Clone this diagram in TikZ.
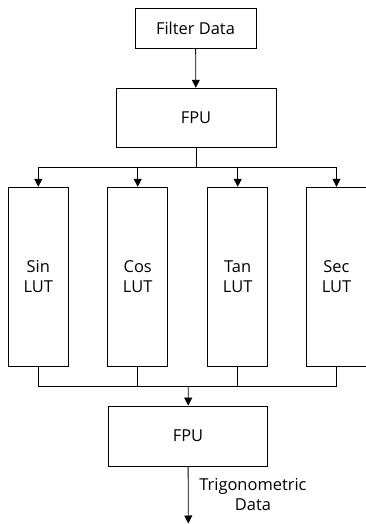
\documentclass[tikz,border=0pt]{standalone}
\usepackage{fontspec}
\setmainfont{Open Sans}
\usepackage{tikz}
\usetikzlibrary{arrows.meta,positioning}

\begin{document}
\begin{tikzpicture}[x=1bp,y=1bp,line width=0.8bp,
  box/.style={draw,inner sep=0pt,align=center,font=\fontsize{16.5}{19.5}\selectfont},
  lut/.style={box,minimum width=60bp,minimum height=179bp},
  arr/.style={-{Triangle[length=8bp,width=8bp]}}]
\useasboundingbox (0,0) rectangle (365,-524);
\node[box,minimum width=121bp,minimum height=40bp] (filt) at (195.5,-28) {Filter Data};
\node[box,minimum width=160bp,minimum height=59bp] (fpuA) at (196,-117.7) {FPU};
\node[lut] (sin) at (38.3,-276.7) {Sin\\LUT};
\node[lut] (cos) at (137.7,-276.7) {Cos\\LUT};
\node[lut] (tan) at (237.7,-276.7) {Tan\\LUT};
\node[lut] (sec) at (336.5,-276.7) {Sec\\LUT};
\node[box,minimum width=159.5bp,minimum height=60bp] (fpuB) at (188,-436) {FPU};
\coordinate (splitA) at (196,-167.7);
\coordinate (joinB) at (188.3,-386.7);
\coordinate (out) at (188.3,-523.5);
\draw[arr] (filt) -- (fpuA);
\draw (fpuA) -- (splitA);
\draw (sin.north |- splitA) -- (sec.north |- splitA);
\foreach \n in {sin,cos,tan,sec}
  \draw[arr] (\n.north |- splitA) -- (\n.north);
\foreach \n in {sin,cos,tan,sec}
  \draw (\n.south) -- (\n.south |- joinB);
\draw (sin.south |- joinB) -- (sec.south |- joinB);
\draw[arr] (joinB) -- (fpuB);
\draw[arr] (fpuB) -- (out);
\node[align=center,font=\fontsize{16.5}{19.5}\selectfont,anchor=west,inner sep=0pt] (trig) at (199,-494.5) {Trigonometric\\Data};
\end{tikzpicture}
\end{document}
